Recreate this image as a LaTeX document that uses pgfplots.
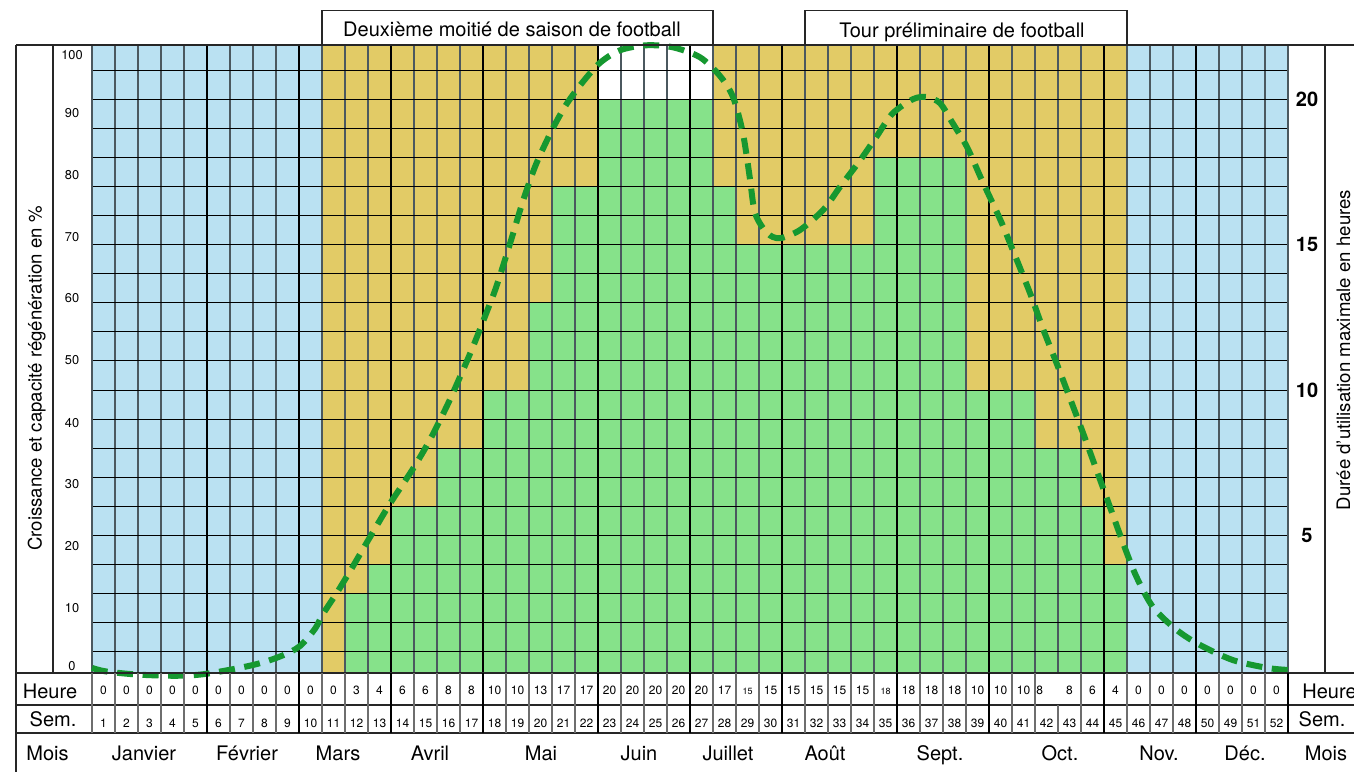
\documentclass[border=0pt]{standalone}
\usepackage{fontspec}
\setmainfont{TeX Gyre Heros}
\usepackage{pgfplots}
\pgfplotsset{compat=1.18}
\definecolor{bgblue}{RGB}{186,225,242}
\definecolor{bgyellow}{RGB}{226,203,102}
\definecolor{bargreen}{RGB}{134,226,138}
\definecolor{curvegreen}{RGB}{22,152,48}
\definecolor{slate}{RGB}{75,88,95}
\definecolor{tablegray}{RGB}{110,110,110}
\newcommand{\fa}{\fontsize{10}{12}\selectfont}
\newcommand{\fn}{\fontsize{6}{7}\selectfont}
\newcommand{\fs}{\fontsize{4.5}{5}\selectfont}
\begin{document}
\begin{tikzpicture}
\path[use as bounding box] (0,0) rectangle (677pt,386pt);
% ---------- background axis: fills, bars, grid, left labels
\begin{axis}[
  at={(46pt,49.5pt)}, anchor=south west,
  scale only axis, width=598pt, height=314pt,
  xmin=0, xmax=52, ymin=0.275, ymax=21.86,
  axis on top,
  xtick={5,9,13,17,22,26,30,35,39,44,48},
  xticklabels={},
  minor xtick={1,...,51},
  xmajorgrids, xminorgrids,
  major x grid style={black, line width=1.1pt},
  minor x grid style={slate, line width=0.65pt},
  ytick={0.53,2.52,4.64,6.77,8.88,11.03,13.15,15.27,17.39,19.53,21.53},
  yticklabels={0,10,20,30,40,50,60,70,80,90,100},
  minor ytick={1,...,21},
  ymajorgrids=false, yminorgrids,
  minor y grid style={black, line width=0.5pt},
  major tick length=0pt, minor tick length=0pt,
  yticklabel style={font=\fontsize{6.4}{7}\selectfont, anchor=center, xshift=-10pt},
  /pgf/number format/assume math mode=true,
  axis line style={line width=0.6pt, color=slate},
]
\addplot[draw=none, fill=bgblue] coordinates {(0,0) (52,0) (52,22) (0,22) (0,0)};
\addplot[draw=none, fill=bgyellow] coordinates {(10,0) (45,0) (45,22) (10,22) (10,0)};
\addplot[draw=none, fill=white] coordinates {(22,20) (27,20) (27,22) (22,22) (22,20)};
\addplot[ybar, bar width=1, bar shift=0pt, fill=bargreen, draw=none] coordinates {
(11.5,3) (12.5,4) (13.5,6) (14.5,6) (15.5,8) (16.5,8) (17.5,10) (18.5,10)
(19.5,13) (20.5,17) (21.5,17) (22.5,20) (23.5,20) (24.5,20) (25.5,20) (26.5,20)
(27.5,17) (28.5,15) (29.5,15) (30.5,15) (31.5,15) (32.5,15) (33.5,15)
(34.5,18) (35.5,18) (36.5,18) (37.5,18) (38.5,10) (39.5,10) (40.5,10)
(41.5,8) (42.5,8) (43.5,6) (44.5,4)};
\end{axis}
% ---------- overlay axis: curve and right labels
\begin{axis}[
  at={(46pt,49.5pt)}, anchor=south west,
  scale only axis, width=598pt, height=314pt,
  xmin=0, xmax=52, ymin=0.275, ymax=21.86,
  clip=false,
  hide x axis,
  axis y line*=right,
  y axis line style={draw=none},
  ytick={5,10,15,20},
  major tick length=0pt,
  yticklabel style={font=\fontsize{10}{12}\selectfont\bfseries, anchor=center, xshift=9.5pt},
  /pgf/number format/assume math mode=true,
]
\addplot[curvegreen, line width=3pt, dash pattern=on 8pt off 4.8pt, smooth, tension=0.5] coordinates {
(0,0.45) (0.6,0.33) (2,0.22) (3.7,0.18) (5,0.25) (7,0.55) (8.2,0.85) (9.04,1.2)
(9.7,1.8) (10.04,2.3) (10.7,3.1) (11.35,3.95) (12.09,4.95) (12.96,6.1)
(13.96,7.3) (14.7,8.3) (15.43,9.45) (16,10.45) (16.57,11.5) (17.17,12.7)
(17.6,13.6) (18.2,15.1) (18.74,16.5) (19.3,17.75) (20.04,19.0) (20.65,19.85)
(21.35,20.6) (22.09,21.25) (22.96,21.68) (24.1,21.85) (25.26,21.78) (26.43,21.44)
(27.3,20.8) (27.87,20.07) (28.3,18.83) (28.6,17.3) (28.83,16.08) (29.35,15.4)
(29.9,15.22) (30.78,15.5) (31.8,16.2) (32.52,16.98) (33.4,17.9) (34.1,18.7)
(34.8,19.5) (35.7,20.0) (36.3,20.07) (36.87,19.86) (37.4,19.2) (38.04,18.36)
(38.7,17.2) (39.5,15.84) (40.04,14.8) (40.8,13.3) (41.35,12.1) (41.95,10.9)
(42.5,9.76) (43.1,8.5) (43.7,7.2) (44.26,5.98) (44.83,4.74) (45.4,3.6)
(46.13,2.54) (47.17,1.75) (48.17,1.24) (49.6,0.72) (51.1,0.45) (52,0.38)};
\end{axis}
% ---------- frame, table and texts (pixel coordinates)
\begin{scope}[x=0.5pt, y=-0.5pt, shift={(0pt,386pt)}]
  % top boxes
  \draw[line width=0.6pt, black!85] (322,10.7) rectangle (713,45);
  \draw[line width=0.6pt, black!85] (805,10.7) rectangle (1127,45);
  \node[font=\fa, anchor=base, inner sep=0] at (512,36.6) {Deuxième moitié de saison de football};
  \node[font=\fa, anchor=base, inner sep=0] at (962,37.5) {Tour préliminaire de football};
  % outer frame
  \draw[line width=0.6pt, black!85] (16,45) -- (1354,45);
  \draw[line width=0.6pt, black!85] (16,45) -- (16,772);
  \draw[line width=0.6pt, black!85] (53,45) -- (53,673);
  \draw[line width=0.6pt, black!85] (1325,45) -- (1325,673);
  \draw[line width=0.6pt, black!85] (16,673) -- (1354,673);
  \draw[line width=0.6pt, black!85] (16,705) -- (1354,705);
  \draw[line width=0.6pt, black!85] (16,733) -- (1354,733);
  % table cell dividers
  \draw[tablegray, line width=0.55pt] (92,673) -- (92,733);
  \foreach \k in {1,...,41,43,44,...,51}{
    \draw[tablegray, line width=0.55pt] ({92+23*\k},673) -- ({92+23*\k},705);}
  \draw[tablegray, line width=0.55pt] ({92+23*42},705) -- ({92+23*42},733);
  \foreach \k in {1,...,41,43,44,...,51}{
    \draw[tablegray, line width=0.55pt] ({92+23*\k},705) -- ({92+23*\k},733);}
  \foreach \k in {5,9,13,17,22,26,30,35,39,44,48,52}{
    \draw[black, line width=1.1pt] ({92+23*\k},673) -- ({92+23*\k},733);}
  % axis titles
  \node[font=\fontsize{9.3}{11}\selectfont, rotate=90, anchor=base, inner sep=0] at (41.5,378.5) {Croissance et capacité régénération en \%};
  \node[font=\fontsize{9.3}{11}\selectfont, rotate=90, anchor=base, inner sep=0] at (1350,350) {Durée d'utilisation maximale en heures};
  % row labels
  \node[font=\fa, anchor=base, inner sep=0] at (50,698) {Heure};
  \node[font=\fa, anchor=base, inner sep=0] at (53,726) {Sem.};
  \node[font=\fa, anchor=base, inner sep=0] at (47.5,760.7) {Mois};
  \node[font=\fa, anchor=base west, inner sep=0] at (1302,698) {Heure};
  \node[font=\fa, anchor=base, inner sep=0] at (1322,726) {Sem.};
  \node[font=\fa, anchor=base, inner sep=0] at (1326,760.7) {Mois};
  % hours row
  \foreach \w/\l in {1/0,2/0,3/0,4/0,5/0,6/0,7/0,8/0,9/0,10/0,11/0,12/3,13/4,14/6,15/6,16/8,17/8,18/10,19/10,20/13,21/17,22/17,23/20,24/20,25/20,26/20,27/20,28/17,30/15,31/15,32/15,33/15,34/15,36/18,37/18,38/18,39/10,40/10,41/10,43/8,44/6,45/4,46/0,47/0,48/0,49/0,50/0,51/0,52/0}{
    \node[font=\fn, anchor=base, inner sep=0] at ({80.5+23*\w},694.3) {\l};}
  \node[font=\fs, anchor=base, inner sep=0] at ({80.5+23*29},694.3) {15};
  \node[font=\fs, anchor=base, inner sep=0] at ({80.5+23*35},694.3) {18};
  \node[font=\fn, anchor=base west, inner sep=0] at (1036,694.3) {8};
  % weeks row
  \foreach \w/\l in {1/1,2/2,3/3,4/4,5/5,6/6,7/7,8/8,9/9,10/10,11/11,12/12,13/13,14/14,15/15,16/16,17/17,18/18,19/19,20/20,21/21,22/22,23/23,24/24,25/25,26/26,27/27,28/28,29/29,30/30,31/31,32/32,33/33,34/34,35/35,36/36,37/37,38/38,39/39,40/40,41/41,42/42,43/43,44/44,45/45,46/46,47/47,48/48,49/50,50/49,51/51,52/52}{
    \node[font=\fn, anchor=base, inner sep=0] at ({80.5+23*\w},727.3) {\l};}
  % months row
  \foreach \x/\m in {144/Janvier,247/Février,338/Mars,430/Avril,541/Mai,639/Juin,728/Juillet,825/Août,940/Sept.,1060/Oct.,1159/Nov.,1245/Déc.}{
    \node[font=\fa, anchor=base, inner sep=0] at (\x,760.7) {\m};}
\end{scope}
\end{tikzpicture}
\end{document}
